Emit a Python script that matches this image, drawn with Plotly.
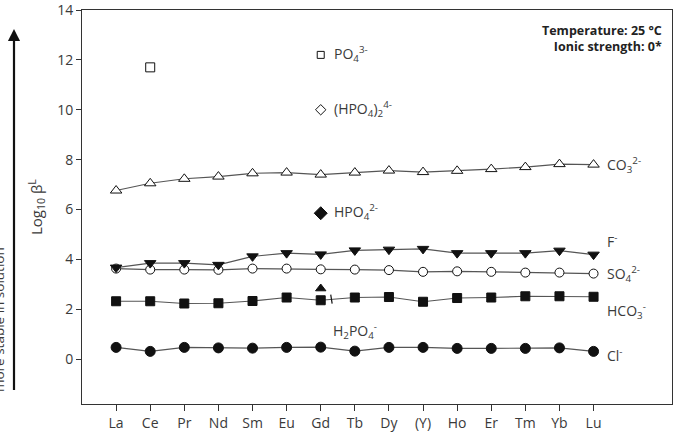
import plotly.graph_objects as go

elements = ["La", "Ce", "Pr", "Nd", "Sm", "Eu", "Gd", "Tb", "Dy", "(Y)", "Ho", "Er", "Tm", "Yb", "Lu"]
co3 = [6.76, 7.05, 7.23, 7.32, 7.45, 7.48, 7.40, 7.48, 7.56, 7.50, 7.55, 7.62, 7.70, 7.82, 7.80]
f_ = [3.67, 3.85, 3.85, 3.78, 4.12, 4.25, 4.20, 4.36, 4.39, 4.42, 4.25, 4.25, 4.25, 4.35, 4.19]
so4 = [3.63, 3.59, 3.59, 3.58, 3.63, 3.63, 3.60, 3.59, 3.57, 3.50, 3.52, 3.50, 3.47, 3.47, 3.43]
hco3 = [2.32, 2.32, 2.23, 2.24, 2.33, 2.47, 2.36, 2.47, 2.49, 2.30, 2.45, 2.47, 2.52, 2.52, 2.50]
cl = [0.47, 0.31, 0.47, 0.45, 0.44, 0.47, 0.48, 0.32, 0.47, 0.47, 0.43, 0.43, 0.43, 0.45, 0.31]

po4_el, po4_val = ["Ce"], [11.7]
hpo4_el, hpo4_val = ["Gd"], [5.85]
h2po4_el, h2po4_val = ["Gd"], [2.83]
key_el = ["Gd"]
po4_key, hpo42_key = [12.2], [10.0]

FONT = "Open Sans"
TXT = "#3a3a3a"
LINE = "#555555"

fig = go.Figure()

def series(y, symbol, fill, size=9):
    fig.add_trace(go.Scatter(
        x=elements, y=y, mode="lines+markers",
        line=dict(color=LINE, width=1.1),
        marker=dict(symbol=symbol, size=size, color=fill,
                    line=dict(color="#111111", width=1)),
        showlegend=False))

series(co3, "triangle-up", "white", 10)
series(so4, "circle", "white", 9)
series(f_, "triangle-down", "#111111", 10)
series(hco3, "square", "#111111", 9)
series(cl, "circle", "#111111", 10)

def pts(x, y, symbol, fill, size):
    fig.add_trace(go.Scatter(
        x=x, y=y, mode="markers",
        marker=dict(symbol=symbol, size=size, color=fill,
                    line=dict(color="#111111", width=1)),
        showlegend=False))

pts(po4_el, po4_val, "square", "white", 9)
pts(key_el, po4_key, "square", "white", 7)
pts(key_el, hpo42_key, "diamond", "white", 8)
pts(hpo4_el, hpo4_val, "diamond", "#111111", 10)
pts(h2po4_el, h2po4_val, "triangle-up", "#111111", 9)

ann = []
def label(x, y, text, xshift=12, yshift=0, xanchor="left"):
    ann.append(dict(x=x, y=y, text=text, showarrow=False, xanchor=xanchor,
                    xshift=xshift, yshift=yshift,
                    font=dict(family=FONT, size=14, color=TXT)))

label("Gd", po4_key[0], "PO<sub>4</sub><sup>3-</sup>", 11, 1)
label("Gd", hpo42_key[0], "(HPO<sub>4</sub>)<sub>2</sub><sup>4-</sup>", 11, 1)
label("Gd", hpo4_val[0], "HPO<sub>4</sub><sup>2-</sup>", 11, 1)
label("Lu", co3[-1], "CO<sub>3</sub><sup>2-</sup>", 11, 0)
label("Lu", f_[-1], "F<sup>-</sup>", 11, 14)
label("Lu", so4[-1], "SO<sub>4</sub><sup>2-</sup>", 11, 0)
label("Lu", hco3[-1], "HCO<sub>3</sub><sup>-</sup>", 11, -14)
label("Lu", cl[-1], "Cl<sup>-</sup>", 11, -4)
label("Gd", h2po4_val[0], "H<sub>2</sub>PO<sub>4</sub><sup>-</sup>", 34, -42, "center")

# short pointer from the H2PO4- label up to its marker
ann.append(dict(x="Gd", y=h2po4_val[0], xshift=10, yshift=-6, text=" ",
                showarrow=True, arrowhead=0, arrowwidth=1.2, arrowcolor="#111111",
                axref="pixel", ayref="pixel", ax=3, ay=19, standoff=0))

ann.append(dict(xref="paper", yref="paper", x=1, y=1, xanchor="right", yanchor="top",
                xshift=-8, yshift=-10, align="right", showarrow=False,
                text="<b>Temperature: 25 °C<br>Ionic strength: 0*</b>",
                font=dict(family=FONT, size=12.5, color="#222222")))

ann.append(dict(xref="paper", yref="paper", x=0, y=0.5, xanchor="center", yanchor="middle",
                xshift=-46, showarrow=False, textangle=-90,
                text="Log<sub>10</sub> β<sup>L</sup>",
                font=dict(family=FONT, size=15, color=TXT)))

ann.append(dict(xref="paper", yref="paper", x=0, y=0.213, xanchor="center", yanchor="middle",
                xshift=-83, showarrow=False, textangle=-90,
                text="more stable in solution",
                font=dict(family=FONT, size=13.5, color=TXT)))

ann.append(dict(xref="paper", yref="paper", x=0, y=0.952, xshift=-68,
                axref="pixel", ayref="pixel", ax=0, ay=371,
                showarrow=True, arrowhead=2, arrowsize=1.1, arrowwidth=2.2,
                arrowcolor="#111111", text=" ", standoff=0))

fig.update_layout(
    width=681, height=434,
    margin=dict(l=82, r=9, t=10, b=30, autoexpand=False),
    paper_bgcolor="white", plot_bgcolor="white",
    annotations=ann,
    xaxis=dict(type="category", range=[-1, 16.3], tickmode="array",
               tickvals=elements, ticktext=elements, automargin=False,
               ticklabeloverflow="allow",
               showline=True, linecolor="#333333", linewidth=1, mirror=True,
               ticks="outside", ticklen=6, tickcolor="#333333", showgrid=False,
               zeroline=False, tickfont=dict(family=FONT, size=14, color=TXT)),
    yaxis=dict(range=[-1.8, 14], tickvals=[0, 2, 4, 6, 8, 10, 12, 14], automargin=False,
               ticklabeloverflow="allow",
               showline=True, linecolor="#333333", linewidth=1, mirror=True,
               ticks="outside", ticklen=5, tickcolor="#333333", showgrid=False,
               zeroline=False, tickfont=dict(family=FONT, size=14, color=TXT)),
)

fig.write_html("out.html")
